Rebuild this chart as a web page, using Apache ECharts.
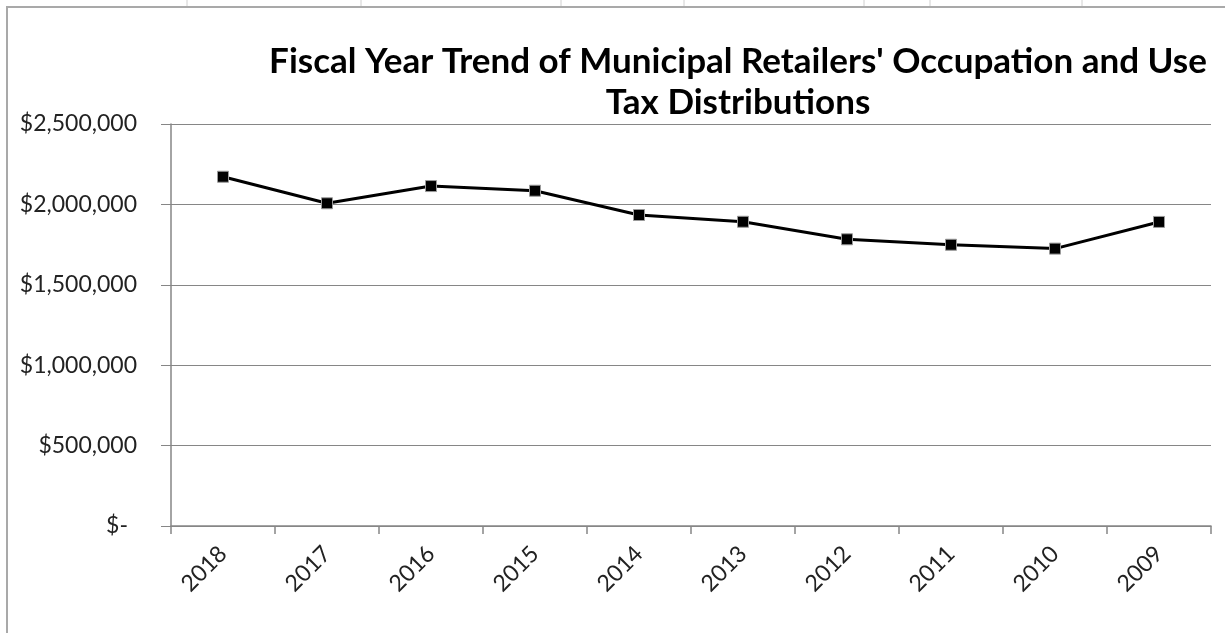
<!DOCTYPE html>
<html>
<head>
<meta charset="utf-8">
<script src="https://cdn.jsdelivr.net/npm/echarts@6/dist/echarts.min.js"></script>
<style>html,body{margin:0;padding:0;background:#fff;}#c{width:1225px;height:633px;}</style>
</head>
<body>
<div id="c"></div>
<script>
const titleText = "Fiscal Year Trend of Municipal Retailers' Occupation and Use\nTax Distributions";
const years = ["2018","2017","2016","2015","2014","2013","2012","2011","2010","2009"];
const distributions = [2172000, 2007000, 2114000, 2085000, 1934000, 1892000, 1783000, 1749000, 1725000, 1891000];
const yTicks = [0, 500000, 1000000, 1500000, 2000000, 2500000];

function fmt(v){
  if (v === 0) return '{z|$-}';
  return '$' + v.toLocaleString('en-US');
}

const chart = echarts.init(document.getElementById('c'));
const topTicks = [187, 361, 561, 684, 864, 930, 1082];
const graphics = [
  {type:'rect', shape:{x:7, y:7, width:1400, height:800}, style:{fill:'none', stroke:'#a9a9a9', lineWidth:2}, silent:true}
].concat(topTicks.map(x => ({type:'line', shape:{x1:x, y1:0, x2:x, y2:6}, style:{stroke:'#d0d0d0', lineWidth:1}, silent:true})));

chart.setOption({
  animation:false,
  backgroundColor:'#fff',
  title:{
    text:titleText,
    left:733, top:36, textAlign:'center',
    textStyle:{fontFamily:'Lato', fontWeight:'bold', fontSize:35, color:'#000', lineHeight:41}
  },
  graphic: graphics,
  grid:{left:171, right:14, top:124, bottom:107, containLabel:false},
  xAxis:{
    type:'category', data:years, boundaryGap:true,
    axisLine:{lineStyle:{color:'#868686', width:1.5}},
    axisTick:{show:true, length:8, alignWithLabel:false, lineStyle:{color:'#868686', width:1.5}},
    axisLabel:{rotate:45, margin:24, fontFamily:'Lato', fontSize:23, color:'#222'}
  },
  yAxis:{
    type:'value', min:0, max:2500000, interval:500000,
    axisLine:{show:true, lineStyle:{color:'#868686', width:1.5}},
    axisTick:{show:true, inside:false, length:10, lineStyle:{color:'#868686', width:1}},
    splitLine:{show:true, lineStyle:{color:'#868686', width:1}},
    axisLabel:{margin:34, fontFamily:'Lato', fontSize:23, color:'#222', formatter:fmt,
      rich:{z:{fontFamily:'Lato', fontSize:23, color:'#222', padding:[0,9,0,0]}}}
  },
  series:[{
    type:'line', data:distributions,
    lineStyle:{color:'#000', width:3},
    symbol:'rect', symbolSize:11,
    itemStyle:{color:'#000', borderColor:'#9a9a9a', borderWidth:1},
    z:5
  }]
});
</script>
</body>
</html>
